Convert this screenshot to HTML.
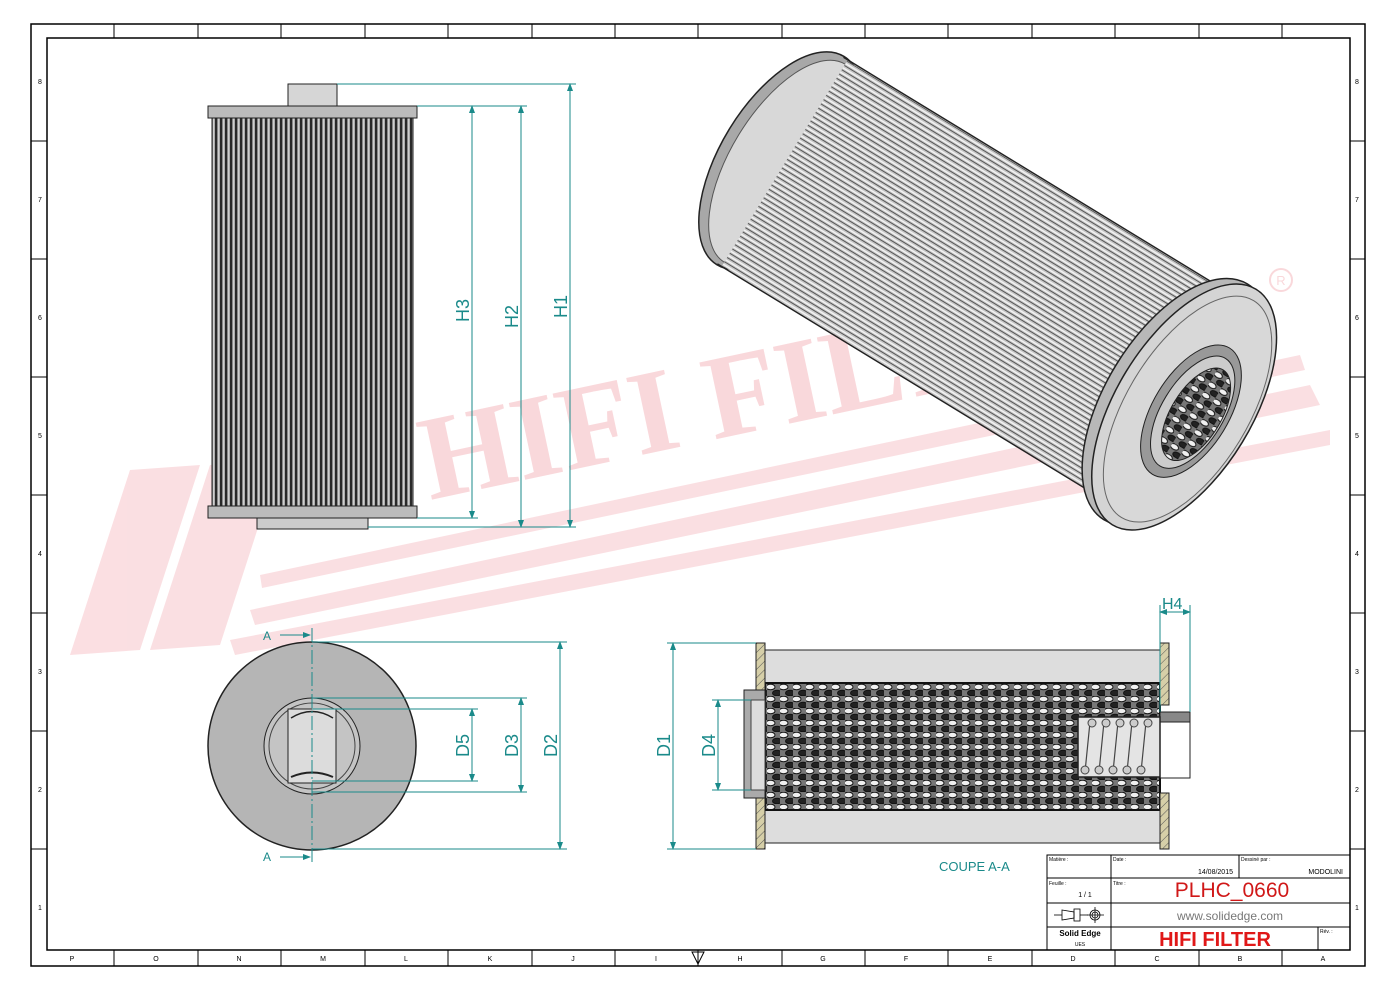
<!DOCTYPE html>
<html><head><meta charset="utf-8"><style>
html,body{margin:0;padding:0;background:#fff;}
svg{display:block;font-family:"Liberation Sans",sans-serif;}
</style></head><body>
<svg width="1400" height="992" viewBox="0 0 1400 992" xmlns="http://www.w3.org/2000/svg">
<defs>
<pattern id="pleat" width="5" height="10" patternUnits="userSpaceOnUse">
<rect width="5" height="10" fill="#8a8a8a"/><rect x="0" width="2" height="10" fill="#2a2a2a"/><rect x="3" width="1.5" height="10" fill="#d0d0d0"/>
</pattern>
<pattern id="pleat3d" width="20" height="5" patternUnits="userSpaceOnUse">
<rect width="20" height="5" fill="#c8c8c8"/><rect y="0" width="20" height="1" fill="#555"/><rect y="2.5" width="20" height="1.5" fill="#f2f2f2"/>
</pattern>
<pattern id="perf" width="13" height="12" patternUnits="userSpaceOnUse">
<rect width="13" height="12" fill="#777"/>
<ellipse cx="3.5" cy="3" rx="4.5" ry="2.8" fill="#f0f0f0" stroke="#111" stroke-width="1"/>
<ellipse cx="10" cy="9" rx="4.5" ry="2.8" fill="#222" stroke="#111" stroke-width="1"/>
</pattern>
<pattern id="hatch" width="6" height="6" patternUnits="userSpaceOnUse" patternTransform="rotate(45)">
<rect width="6" height="6" fill="#d6cfa8"/><line x1="0" y1="0" x2="0" y2="6" stroke="#555" stroke-width="1"/>
</pattern>
<marker id="ar" markerWidth="8" markerHeight="8" refX="7" refY="4" orient="auto-start-reverse" markerUnits="userSpaceOnUse">
<path d="M0,1 L8,4 L0,7 Z" fill="#1a8a8a"/></marker>
</defs>

<rect x="31" y="24" width="1334" height="942" fill="none" stroke="#000" stroke-width="1.5"/>
<rect x="47" y="38" width="1303" height="912" fill="none" stroke="#000" stroke-width="1.5"/>
<g stroke="#000" stroke-width="1">
<line x1="114" y1="24" x2="114" y2="38"/><line x1="198" y1="24" x2="198" y2="38"/><line x1="281" y1="24" x2="281" y2="38"/><line x1="365" y1="24" x2="365" y2="38"/><line x1="448" y1="24" x2="448" y2="38"/><line x1="532" y1="24" x2="532" y2="38"/><line x1="615" y1="24" x2="615" y2="38"/><line x1="698" y1="24" x2="698" y2="38"/><line x1="782" y1="24" x2="782" y2="38"/><line x1="865" y1="24" x2="865" y2="38"/><line x1="948" y1="24" x2="948" y2="38"/><line x1="1032" y1="24" x2="1032" y2="38"/><line x1="1115" y1="24" x2="1115" y2="38"/><line x1="1199" y1="24" x2="1199" y2="38"/><line x1="1282" y1="24" x2="1282" y2="38"/>
<line x1="114" y1="950" x2="114" y2="966"/><line x1="198" y1="950" x2="198" y2="966"/><line x1="281" y1="950" x2="281" y2="966"/><line x1="365" y1="950" x2="365" y2="966"/><line x1="448" y1="950" x2="448" y2="966"/><line x1="532" y1="950" x2="532" y2="966"/><line x1="615" y1="950" x2="615" y2="966"/><line x1="698" y1="950" x2="698" y2="966"/><line x1="782" y1="950" x2="782" y2="966"/><line x1="865" y1="950" x2="865" y2="966"/><line x1="948" y1="950" x2="948" y2="966"/><line x1="1032" y1="950" x2="1032" y2="966"/><line x1="1115" y1="950" x2="1115" y2="966"/><line x1="1199" y1="950" x2="1199" y2="966"/><line x1="1282" y1="950" x2="1282" y2="966"/>
<line x1="31" y1="141" x2="47" y2="141"/><line x1="31" y1="259" x2="47" y2="259"/><line x1="31" y1="377" x2="47" y2="377"/><line x1="31" y1="495" x2="47" y2="495"/><line x1="31" y1="613" x2="47" y2="613"/><line x1="31" y1="731" x2="47" y2="731"/><line x1="31" y1="849" x2="47" y2="849"/>
<line x1="1350" y1="141" x2="1365" y2="141"/><line x1="1350" y1="259" x2="1365" y2="259"/><line x1="1350" y1="377" x2="1365" y2="377"/><line x1="1350" y1="495" x2="1365" y2="495"/><line x1="1350" y1="613" x2="1365" y2="613"/><line x1="1350" y1="731" x2="1365" y2="731"/><line x1="1350" y1="849" x2="1365" y2="849"/>
</g>
<g font-size="7" text-anchor="middle" fill="#000">
<text x="72" y="961">P</text><text x="156" y="961">O</text><text x="239" y="961">N</text><text x="323" y="961">M</text><text x="406" y="961">L</text><text x="490" y="961">K</text><text x="573" y="961">J</text><text x="656" y="961">I</text><text x="740" y="961">H</text><text x="823" y="961">G</text><text x="906" y="961">F</text><text x="990" y="961">E</text><text x="1073" y="961">D</text><text x="1157" y="961">C</text><text x="1240" y="961">B</text><text x="1323" y="961">A</text>
<text x="1357" y="910">1</text><text x="1357" y="792">2</text><text x="1357" y="674">3</text><text x="1357" y="556">4</text><text x="1357" y="438">5</text><text x="1357" y="320">6</text><text x="1357" y="202">7</text><text x="1357" y="84">8</text>
<text x="40" y="910">1</text><text x="40" y="792">2</text><text x="40" y="674">3</text><text x="40" y="556">4</text><text x="40" y="438">5</text><text x="40" y="320">6</text><text x="40" y="202">7</text><text x="40" y="84">8</text>
</g>
<path d="M692,952 L704,952 L698,964 Z" fill="none" stroke="#000"/>

<g opacity="0.45">
<polygon points="70,655 130,470 200,465 140,650" fill="#f6b9bf"/>
<polygon points="150,650 210,465 280,460 220,645" fill="#f6b9bf"/>
<polygon points="230,640 1330,430 1330,445 235,655" fill="#f6b9bf"/>
<polygon points="250,610 1310,385 1320,405 255,625" fill="#f6b9bf"/>
<polygon points="260,575 1300,355 1305,370 262,588" fill="#f6b9bf"/>
<text x="430" y="500" font-family="Liberation Serif,serif" font-weight="bold" font-size="120" fill="#f3a9b0" transform="rotate(-12 430 500)">HIFI FILTER</text>
<circle cx="1281" cy="280" r="11" fill="none" stroke="#f3a9b0" stroke-width="2"/>
<text x="1281" y="285" font-size="13" text-anchor="middle" fill="#f3a9b0">R</text>
</g>

<rect x="288" y="84" width="49" height="22" fill="#d6d6d6" stroke="#222"/>
<rect x="208" y="106" width="209" height="12" fill="#bbb" stroke="#222"/>
<rect x="212" y="118" width="201" height="388" fill="url(#pleat)" stroke="#222"/>
<rect x="208" y="506" width="209" height="12" fill="#bbb" stroke="#222"/>
<rect x="257" y="518" width="111" height="11" fill="#ccc" stroke="#222"/>

<g stroke="#1a8a8a" stroke-width="1" fill="none">
<line x1="337" y1="84" x2="576" y2="84"/><line x1="417" y1="106" x2="527" y2="106"/>
<line x1="417" y1="518" x2="478" y2="518"/><line x1="368" y1="527" x2="576" y2="527"/>
<line x1="472" y1="106" x2="472" y2="518" marker-start="url(#ar)" marker-end="url(#ar)"/>
<line x1="521" y1="106" x2="521" y2="527" marker-start="url(#ar)" marker-end="url(#ar)"/>
<line x1="570" y1="84" x2="570" y2="527" marker-start="url(#ar)" marker-end="url(#ar)"/>
</g>
<g fill="#1a8a8a" font-size="18">
<text transform="translate(469,322) rotate(-90)">H3</text>
<text transform="translate(518,328) rotate(-90)">H2</text>
<text transform="translate(567,318) rotate(-90)">H1</text>
</g>

<g transform="translate(981,283) rotate(31.4)">
<ellipse cx="-235" cy="0" rx="60" ry="122" fill="#a8a8a8" stroke="#222" stroke-width="1.5"/>
<ellipse cx="-230" cy="0" rx="54" ry="116" fill="#d8d8d8" stroke="#555"/>
<rect x="-230" y="-120" width="465" height="240" fill="url(#pleat3d)"/>
<line x1="-235" y1="-121" x2="235" y2="-121" stroke="#222" stroke-width="1.5"/>
<line x1="-235" y1="121" x2="235" y2="121" stroke="#222" stroke-width="1.5"/>
<ellipse cx="228" cy="0" rx="70" ry="138" fill="#b8b8b8" stroke="#222" stroke-width="1.5"/>
<ellipse cx="238" cy="0" rx="68" ry="138" fill="#d4d4d4" stroke="#222" stroke-width="1.5"/>
<ellipse cx="242" cy="0" rx="61" ry="127" fill="#d8d8d8" stroke="#666"/>
<ellipse cx="246" cy="0" rx="38" ry="74" fill="#999" stroke="#222"/>
<ellipse cx="248" cy="0" rx="31" ry="63" fill="#ccc" stroke="#222"/>
<ellipse cx="252" cy="0" rx="25" ry="52" fill="url(#perf)" stroke="#222"/>
</g>

<circle cx="312" cy="746" r="104" fill="#b5b5b5" stroke="#222" stroke-width="1.5"/>
<circle cx="312" cy="746" r="48" fill="#c4c4c4" stroke="#222"/>
<circle cx="312" cy="746" r="43" fill="none" stroke="#444"/>
<rect x="288" y="709" width="48" height="74" fill="#dcdcdc" stroke="#222"/>
<path d="M291,718 Q312,705 333,718" fill="none" stroke="#222" stroke-width="1.5"/>
<path d="M291,777 Q312,768 333,777" fill="none" stroke="#222" stroke-width="2"/>
<g stroke="#1a8a8a" stroke-width="1" fill="none">
<line x1="312" y1="628" x2="312" y2="864" stroke-dasharray="14,3,2,3"/>
<line x1="280" y1="635" x2="310" y2="635" marker-end="url(#ar)"/>
<line x1="280" y1="857" x2="310" y2="857" marker-end="url(#ar)"/>
<line x1="312" y1="642" x2="567" y2="642"/><line x1="312" y1="849" x2="567" y2="849"/>
<line x1="312" y1="698" x2="527" y2="698"/><line x1="312" y1="792" x2="527" y2="792"/>
<line x1="312" y1="709" x2="478" y2="709"/><line x1="312" y1="781" x2="478" y2="781"/>
<line x1="560" y1="642" x2="560" y2="849" marker-start="url(#ar)" marker-end="url(#ar)"/>
<line x1="521" y1="698" x2="521" y2="792" marker-start="url(#ar)" marker-end="url(#ar)"/>
<line x1="472" y1="709" x2="472" y2="781" marker-start="url(#ar)" marker-end="url(#ar)"/>
</g>
<g fill="#1a8a8a" font-size="18">
<text x="263" y="640" font-size="12">A</text><text x="263" y="861" font-size="12">A</text>
<text transform="translate(557,757) rotate(-90)">D2</text>
<text transform="translate(518,757) rotate(-90)">D3</text>
<text transform="translate(469,757) rotate(-90)">D5</text>
</g>

<rect x="765" y="650" width="395" height="193" fill="#ddd" stroke="#222"/>
<rect x="765" y="683" width="395" height="127" fill="url(#perf)" stroke="#111" stroke-width="2"/>
<rect x="756" y="643" width="9" height="47" fill="url(#hatch)" stroke="#222"/>
<rect x="756" y="798" width="9" height="51" fill="url(#hatch)" stroke="#222"/>
<rect x="1160" y="643" width="9" height="62" fill="url(#hatch)" stroke="#222"/>
<rect x="1160" y="793" width="9" height="56" fill="url(#hatch)" stroke="#222"/>
<rect x="744" y="690" width="21" height="108" fill="#aaa" stroke="#222"/>
<rect x="751" y="700" width="14" height="90" fill="#ddd" stroke="#444"/>
<rect x="1160" y="712" width="30" height="66" fill="#fff" stroke="#222"/>
<rect x="1160" y="712" width="30" height="10" fill="#888" stroke="#222"/>
<rect x="1078" y="717" width="82" height="60" fill="#e4e4e4" stroke="#222" stroke-width="1.5"/>
<g stroke="#444" stroke-width="1.2" fill="none">
<path d="M1090,722 L1085,772 M1104,722 L1099,772 M1118,722 L1113,772 M1132,722 L1127,772 M1146,722 L1141,772"/>
</g>
<g fill="#ccc" stroke="#444">
<circle cx="1092" cy="723" r="4"/><circle cx="1106" cy="723" r="4"/><circle cx="1120" cy="723" r="4"/><circle cx="1134" cy="723" r="4"/><circle cx="1148" cy="723" r="4"/>
<circle cx="1085" cy="770" r="4"/><circle cx="1099" cy="770" r="4"/><circle cx="1113" cy="770" r="4"/><circle cx="1127" cy="770" r="4"/><circle cx="1141" cy="770" r="4"/>
</g>
<g stroke="#1a8a8a" stroke-width="1" fill="none">
<line x1="667" y1="643" x2="756" y2="643"/><line x1="667" y1="849" x2="756" y2="849"/>
<line x1="673" y1="643" x2="673" y2="849" marker-start="url(#ar)" marker-end="url(#ar)"/>
<line x1="712" y1="700" x2="751" y2="700"/><line x1="712" y1="790" x2="751" y2="790"/>
<line x1="718" y1="700" x2="718" y2="790" marker-start="url(#ar)" marker-end="url(#ar)"/>
<line x1="1160" y1="605" x2="1160" y2="712"/><line x1="1190" y1="605" x2="1190" y2="712"/>
<line x1="1160" y1="612" x2="1190" y2="612" marker-start="url(#ar)" marker-end="url(#ar)"/>
</g>
<g fill="#1a8a8a" font-size="18">
<text transform="translate(670,757) rotate(-90)">D1</text>
<text transform="translate(715,757) rotate(-90)">D4</text>
<text x="1162" y="609" font-size="16">H4</text>
<text x="939" y="871" font-size="13">COUPE A-A</text>
</g>

<g stroke="#000" stroke-width="1" fill="none">
<rect x="1047" y="855" width="303" height="95"/>
<line x1="1047" y1="878" x2="1350" y2="878"/>
<line x1="1047" y1="903" x2="1350" y2="903"/>
<line x1="1047" y1="927" x2="1350" y2="927"/>
<line x1="1111" y1="855" x2="1111" y2="950"/>
<line x1="1239" y1="855" x2="1239" y2="878"/>
<line x1="1318" y1="927" x2="1318" y2="950"/>
</g>
<g font-size="5" fill="#000">
<text x="1049" y="861">Matière :</text><text x="1113" y="861">Date :</text><text x="1241" y="861">Dessiné par :</text>
<text x="1049" y="885">Feuille :</text><text x="1113" y="885">Titre :</text><text x="1320" y="933">Rév. :</text>
</g>
<text x="1233" y="874" font-size="7" text-anchor="end">14/08/2015</text>
<text x="1343" y="874" font-size="7" text-anchor="end">MODOLINI</text>
<text x="1085" y="897" font-size="7" text-anchor="middle">1 / 1</text>
<text x="1232" y="897" font-size="21" fill="#d01818" text-anchor="middle">PLHC_0660</text>
<text x="1230" y="920" font-size="12" fill="#777" text-anchor="middle">www.solidedge.com</text>
<text x="1080" y="936" font-size="8" font-weight="bold" text-anchor="middle">Solid Edge</text>
<text x="1080" y="946" font-size="5" text-anchor="middle">UES</text>
<text x="1215" y="946" font-size="20" font-weight="bold" fill="#e01818" text-anchor="middle">HIFI FILTER</text>
<g stroke="#000" fill="none" stroke-width="0.8">
<line x1="1054" y1="915" x2="1062" y2="915"/><path d="M1062,910 L1074,912 L1074,918 L1062,920 Z"/><rect x="1074" y="909" width="6" height="12"/>
<line x1="1080" y1="915" x2="1088" y2="915"/><circle cx="1095" cy="915" r="5"/><circle cx="1095" cy="915" r="3"/><line x1="1095" y1="907" x2="1095" y2="923"/><line x1="1087" y1="915" x2="1104" y2="915"/>
</g>
</svg>
</body></html>
